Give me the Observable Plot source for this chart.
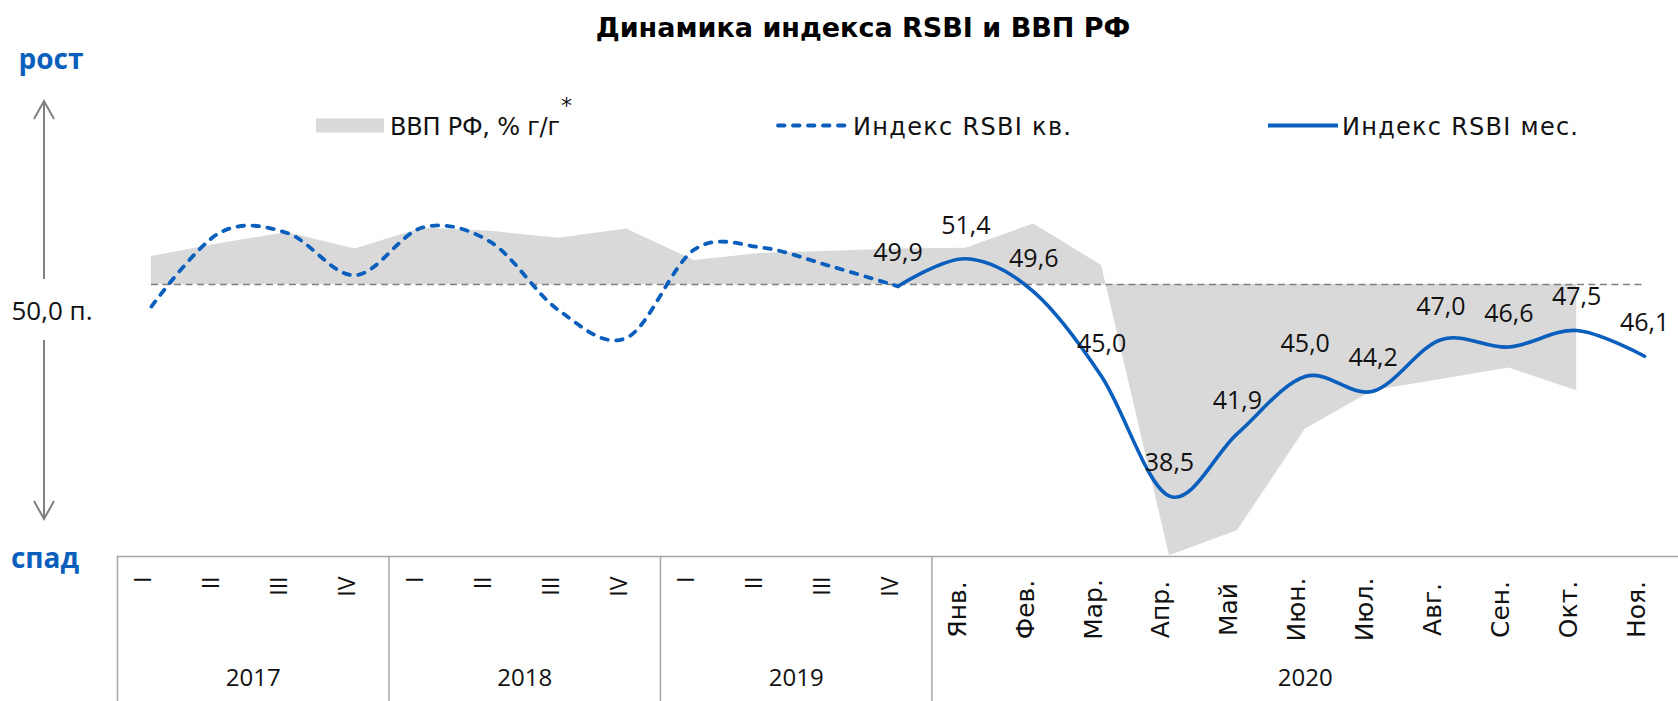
<!DOCTYPE html>
<html>
<head>
<meta charset="utf-8">
<script src="https://cdn.jsdelivr.net/npm/d3@7"></script>
<script src="https://cdn.jsdelivr.net/npm/@observablehq/plot@0.6"></script>
<style>
  html, body { margin: 0; padding: 0; background: #ffffff; }
  #chart { width: 1678px; height: 701px; }
  #chart svg { display: block; }
</style>
</head>
<body>
<div id="chart"></div>
<script>
// ---------- DATA ----------
const categories = ["I", "II", "III", "IV", "I", "II", "III", "IV", "I", "II", "III", "IV",
  "Янв.", "Фев.", "Мар.", "Апр.", "Май", "Июн.", "Июл.", "Авг.", "Сен.", "Окт.", "Ноя."];
const years = ["2017", "2018", "2019", "2020"];
const yearSpans = [4, 4, 4, 11];
// Индекс RSBI кв. (2017 I – 2019 IV)
const rsbiQuarterly = [48.8, 52.8, 52.8, 50.5, 53.1, 52.3, 48.6, 47.1, 51.9, 52.0, 51.0, 49.9];
// Индекс RSBI мес. (2019 IV, then Jan–Nov 2020)
const rsbiMonthly = [49.9, 51.4, 49.6, 45.0, 38.5, 41.9, 45.0, 44.2, 47.0, 46.6, 47.5, 46.1];
// ВВП РФ, % г/г (2017 I – Oct 2020), secondary axis
const gdp = [1.24, 1.8, 2.3, 1.57, 2.5, 2.35, 2.05, 2.45, 1.06, 1.38, 1.47, 1.57,
  1.6, 2.68, 0.84, -12.0, -10.9, -6.4, -4.7, -4.2, -3.7, -4.7];
const baseline = 50;          // 50,0 п. level, where GDP growth = 0
const gdpToIndex = 1.228;     // secondary-axis ratio: index points per 1 % of GDP
const legendLabels = ["ВВП РФ, % г/г", "Индекс RSBI кв.", "Индекс RSBI мес."];
const title = "Динамика индекса RSBI и ВВП РФ";

// ---------- TABLES ----------
const blue = "#0a5fbd";
const fmt = v => v.toFixed(1).replace(".", ",");
const qData = rsbiQuarterly.map((v, i) => ({i, v}));
const mData = rsbiMonthly.map((v, j) => ({i: j + rsbiQuarterly.length - 1, v}));
const gData = gdp.map((g, i) => ({i, v: baseline + g * gdpToIndex}));
const catData = categories.map((label, i) => ({i, label, quarter: i < 12}));
let acc = 0;
const yearData = years.map((year, k) => {
  const start = acc; acc += yearSpans[k];
  return {year, center: (start + acc - 1) / 2, start};
});
const boundaries = yearData.map(d => d.start - 0.5);

const W = 1678, H = 701;
const chart = Plot.plot({
  width: W, height: H,
  marginLeft: 117, marginRight: 0, marginTop: 0, marginBottom: 145,
  x: {type: "linear", domain: [-0.5, categories.length - 0.5], axis: null},
  y: {domain: [35.22, 65.43], axis: null},
  style: {fontFamily: "'Open Sans', sans-serif", background: "#ffffff", color: "#111"},
  marks: [
    Plot.areaY(gData, {x: "i", y1: baseline, y2: "v", fill: "#d9d9d9"}),
    Plot.ruleY([baseline], {x1: 0, x2: categories.length - 1, stroke: "#7f7f7f", strokeWidth: 1.7, strokeDasharray: "7,4.5"}),
    Plot.line(qData, {x: "i", y: "v", curve: "cardinal", stroke: blue, strokeWidth: 3.8,
      strokeDasharray: "6.5,8.5", strokeLinecap: "round"}),
    Plot.line(mData, {x: "i", y: "v", curve: "cardinal", stroke: blue, strokeWidth: 3.6}),
    Plot.text(mData, {x: "i", y: "v", text: d => fmt(d.v), dy: -33, fontSize: 25, fill: "#111"}),
    Plot.frame({anchor: "bottom", stroke: "#a6a6a6", strokeWidth: 1.5}),
    Plot.axisX({ticks: boundaries, tickSize: 145, tickFormat: () => "", stroke: "#a6a6a6", strokeWidth: 1.5, strokeOpacity: 1}),
    Plot.text(catData.filter(d => d.quarter), {x: "i", text: "label", frameAnchor: "bottom",
      rotate: -90, textAnchor: "end", dy: 20, fontSize: 23, fill: "#111"}),
    Plot.text(catData.filter(d => !d.quarter), {x: "i", text: "label", frameAnchor: "bottom",
      rotate: -90, textAnchor: "middle", dy: 53, fontSize: 25, fontFamily: "'DejaVu Sans', sans-serif", fill: "#111"}),
    Plot.text(yearData, {x: "center", text: "year", frameAnchor: "bottom", dy: 129, fontSize: 24, fill: "#111"})
  ]
});
document.getElementById("chart").appendChild(chart);

// ---------- DECORATIONS ----------
const svg = d3.select(chart);
const deco = svg.append("g");
function txt(x, y, s, opts = {}) {
  const t = deco.append("text").attr("x", x).attr("y", y)
    .attr("text-anchor", opts.anchor || "start")
    .attr("fill", opts.fill || "#111")
    .style("font-family", opts.family || "'Open Sans', sans-serif")
    .style("font-size", (opts.size || 19) + "px")
    .style("font-weight", opts.weight || "normal")
    .text(s);
  if (opts.length) t.attr("textLength", opts.length).attr("lengthAdjust", "spacing");
  return t;
}
txt(863, 37, title, {anchor: "middle", family: "'DejaVu Sans', sans-serif", weight: "bold", size: 27, fill: "#000"});
txt(51, 69, "рост", {anchor: "middle", weight: "bold", size: 28, fill: blue});
txt(45, 568, "спад", {anchor: "middle", weight: "bold", size: 28, fill: blue});
txt(52, 320, "50,0 п.", {anchor: "middle", size: 26});
const arrow = deco.append("g").attr("stroke", "#808080").attr("stroke-width", 2).attr("fill", "none");
arrow.append("path").attr("d", "M44,279 V101 M34,119 L44,101 L54,119");
arrow.append("path").attr("d", "M44,340 V519 M34,501 L44,519 L54,501");

// legend
const legFont = "'DejaVu Sans', sans-serif";
deco.append("rect").attr("x", 316).attr("y", 118.5).attr("width", 68).attr("height", 14).attr("fill", "#d9d9d9");
txt(390, 135, legendLabels[0], {size: 24, family: legFont, length: 170});
txt(561, 113, "*", {size: 22, family: legFont});
deco.append("line").attr("x1", 778).attr("x2", 848).attr("y1", 125.5).attr("y2", 125.5)
  .attr("stroke", blue).attr("stroke-width", 3.8).attr("stroke-dasharray", "6.5,8.5").attr("stroke-linecap", "round");
txt(853, 135, legendLabels[1], {size: 24, family: legFont, length: 218});
deco.append("line").attr("x1", 1268).attr("x2", 1338).attr("y1", 125.5).attr("y2", 125.5)
  .attr("stroke", blue).attr("stroke-width", 3.8);
txt(1342, 135, legendLabels[2], {size: 24, family: legFont, length: 236});
</script>
</body>
</html>
